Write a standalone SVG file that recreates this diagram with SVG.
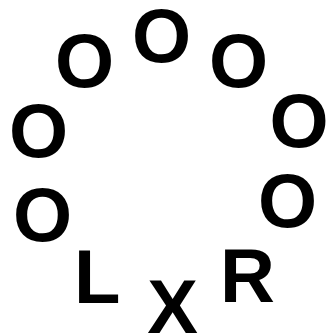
<svg xmlns="http://www.w3.org/2000/svg" width="326" height="335" viewBox="0 0 326 335">
<style>
text{font-family:"Liberation Sans",Arial,sans-serif;font-weight:bold;font-size:76px;fill:#000;text-anchor:middle}
</style>
<rect width="326" height="335" fill="#fff"/>
<g id="o1"><text x="161.5" y="62">O</text></g>
<g id="o2"><text x="84.5" y="87">O</text></g>
<g id="o3"><text x="238.5" y="87">O</text></g>
<g id="o4"><text x="38.5" y="157">O</text></g>
<g id="o5"><text x="299" y="147">O</text></g>
<g id="o6"><text x="42.5" y="241">O</text></g>
<g id="o7"><text x="287.5" y="227">O</text></g>
<g id="L"><text x="97.3" y="303">L</text></g>
<g id="X"><text x="172.5" y="333">X</text></g>
<g id="R"><text x="247.5" y="302">R</text></g>
</svg>
